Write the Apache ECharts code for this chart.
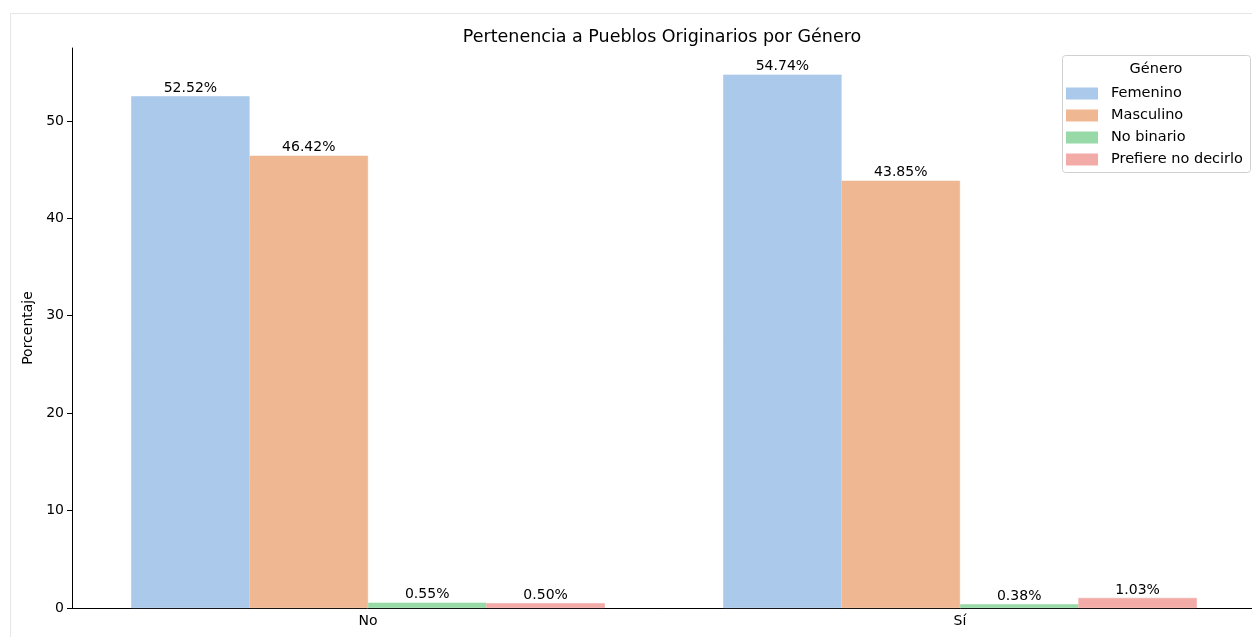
<!DOCTYPE html>
<html>
<head>
<meta charset="utf-8">
<script src="https://cdn.jsdelivr.net/npm/echarts@6/dist/echarts.min.js"></script>
<style>
html,body{margin:0;padding:0;background:#fff;overflow:hidden;width:1252px;height:637px;}
#frame{position:absolute;left:10px;top:13px;width:1300px;height:700px;border:1px solid #e6e6e6;box-sizing:border-box;}
#chart{position:absolute;left:0;top:0;width:1260px;height:637px;}
</style>
</head>
<body>
<div id="frame"></div>
<div id="chart"></div>
<script>
const categories = ['No', 'Sí'];
const seriesNames = ['Femenino', 'Masculino', 'No binario', 'Prefiere no decirlo'];
const femenino = [52.52, 54.74];
const masculino = [46.42, 43.85];
const noBinario = [0.55, 0.38];
const prefiereNo = [0.50, 1.03];
const yTicks = [0, 10, 20, 30, 40, 50];
const colors = ['#abc9ea', '#efb792', '#98daa7', '#f3aba8'];
const values = [femenino, masculino, noBinario, prefiereNo];
const font = 'DejaVu Sans';

const chart = echarts.init(document.getElementById('chart'), null, {renderer: 'canvas'});
chart.setOption({
  animation: false,
  backgroundColor: 'transparent',
  title: {
    text: 'Pertenencia a Pueblos Originarios por Género',
    left: 657, top: 23, textAlign: 'center',
    textStyle: {fontFamily: font, fontSize: 17.5, fontWeight: 'normal', color: '#000'}
  },
  grid: {left: 72, top: 48, width: 1184, bottom: 29},
  legend: {
    data: seriesNames,
    orient: 'vertical',
    left: 1066, top: 86,
    itemWidth: 30, itemHeight: 10, itemGap: 7,
    icon: 'rect',
    textStyle: {fontFamily: font, fontSize: 14.5, color: '#000', padding: [0,0,0,9]},
    padding: 0
  },
  graphic: [
    {type: 'rect', shape: {x: 1062.5, y: 55.5, width: 188, height: 117, r: 3},
     style: {fill: 'rgba(255,255,255,0.8)', stroke: '#d0d0d0', lineWidth: 1}, z: 0},
    {type: 'text', x: 1156, y: 69, style: {text: 'Género', fontFamily: font, fontSize: 14.5, fill: '#000', textAlign: 'center', textVerticalAlign: 'middle'}, z: 10}
  ],
  xAxis: {
    type: 'category', data: categories,
    axisLine: {lineStyle: {color: '#000', width: 1}},
    axisTick: {alignWithLabel: true, length: 5, lineStyle: {color: '#000'}},
    axisLabel: {fontFamily: font, fontSize: 14, color: '#000', margin: 6}
  },
  yAxis: {
    type: 'value', min: 0, max: 57.48, interval: 10,
    name: 'Porcentaje', nameLocation: 'middle', nameGap: 34, nameRotate: 90,
    nameTextStyle: {fontFamily: font, fontSize: 14, color: '#000'},
    axisLine: {show: true, lineStyle: {color: '#000', width: 1}},
    axisTick: {show: true, length: 5, lineStyle: {color: '#000'}},
    axisLabel: {fontFamily: font, fontSize: 14, color: '#000', margin: 8, showMaxLabel: false,
      formatter: v => yTicks.includes(v) ? String(v) : ''},
    splitLine: {show: false}
  },
  series: seriesNames.map((n, i) => ({
    name: n, type: 'bar', data: values[i],
    barGap: '0%', barCategoryGap: '20%',
    itemStyle: {color: colors[i], borderColor: colors[i], borderWidth: 0.6},
    label: {show: true, position: 'top', distance: 1,
      formatter: p => p.value.toFixed(2) + '%',
      fontFamily: font, fontSize: 14, color: '#000'}
  }))
});
</script>
</body>
</html>
